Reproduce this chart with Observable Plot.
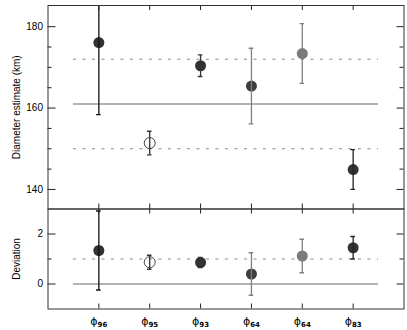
<!DOCTYPE html>
<html>
<head>
<meta charset="utf-8">
<script src="https://cdn.jsdelivr.net/npm/d3@7"></script>
<script src="https://cdn.jsdelivr.net/npm/@observablehq/plot@0.6"></script>
<style>
  body { margin: 0; background: #fff; }
  #wrap { position: relative; width: 407px; height: 330px; background: #fff; }
  #wrap svg { position: absolute; left: 0; background: transparent; }
</style>
</head>
<body>
<div id="wrap"></div>
<script>
// ---- data ----
const pos = [1, 2, 3, 4, 5, 6];
const tickLabels = ["ϕ₉₆", "ϕ₉₅", "ϕ₉₃", "ϕ₆₄", "ϕ₆₄", "ϕ₈₃"];
const diam = [176.1, 151.4, 170.4, 165.4, 173.4, 144.9];
const diamErr = [17.7, 2.9, 2.65, 9.3, 7.35, 4.9];
const dev = [1.34, 0.87, 0.86, 0.40, 1.12, 1.45];
const devErr = [1.58, 0.28, 0.2, 0.85, 0.67, 0.45];
const dotFill = ["#333", "none", "#333", "#3d3d3d", "#7a7a7a", "#333"];
const dotStroke = ["none", "#444", "none", "none", "none", "none"];
const barColor = ["#111", "#333", "#333", "#808080", "#808080", "#222"];
const diamMean = [161];
const diamBand = [150, 172];
const devMean = [0];
const devBand = [1];
const diamMajor = [140, 160, 180];
const diamMinor = [145, 150, 155, 165, 170, 175];
const devMajor = [0, 2];
const devMinor = [1];

const topData = pos.map((p, i) => ({x: p, v: diam[i], e: diamErr[i], fill: dotFill[i], stroke: dotStroke[i], bar: barColor[i]}));
const botData = pos.map((p, i) => ({x: p, v: dev[i], e: devErr[i], fill: dotFill[i], stroke: dotStroke[i], bar: barColor[i]}));

const W = 407, ML = 47.5, MR = 3.5;
const FW = W - ML - MR;
const xDom = [pos[0] - 1, pos[pos.length - 1] + 1];
const xLo = pos[0] - 0.5, xHi = pos[pos.length - 1] + 0.5;
const capW = 0.045;
const font = {fontFamily: "'Liberation Sans', Arial, sans-serif", fontSize: "10px", background: "transparent", color: "#000"};

function panel(data, opts) {
  const {height, marginTop, marginBottom, yDomain, major, minor, mean, band, label, labelOffset, xAxis} = opts;
  const FH = height - marginTop - marginBottom;
  const marks = [
    Plot.ruleY(mean, {y: d => d, x1: xLo, x2: xHi, stroke: "#9a9a9a", strokeWidth: 1.6}),
    Plot.ruleY(band, {y: d => d, x1: xLo, x2: xHi, stroke: "#888", strokeWidth: 1, strokeDasharray: "3,6.5"}),
    Plot.dot(data, {x: "x", y: "v", r: 5.5, fill: d => d.fill, stroke: d => d.stroke, strokeWidth: 1}),
    Plot.link(data, {x1: "x", x2: "x", y1: d => d.v - d.e, y2: d => d.v + d.e, stroke: d => d.bar, strokeWidth: 1.3, clip: true}),
    Plot.ruleY(data, {x1: d => d.x - capW, x2: d => d.x + capW, y: d => d.v + d.e, stroke: d => d.bar, strokeWidth: 1.3, clip: true}),
    Plot.ruleY(data, {x1: d => d.x - capW, x2: d => d.x + capW, y: d => d.v - d.e, stroke: d => d.bar, strokeWidth: 1.3, clip: true}),
    Plot.ruleY(major, {y: d => d, insetRight: FW - 8, stroke: "#222"}),
    Plot.ruleY(minor, {y: d => d, insetRight: FW - 4, stroke: "#222"}),
    Plot.ruleY(major, {y: d => d, insetLeft: FW - 7, stroke: "#222"}),
    Plot.ruleY(minor, {y: d => d, insetLeft: FW - 4, stroke: "#222"}),
    Plot.ruleX(pos, {x: d => d, insetBottom: FH - 5, stroke: "#222"}),
    Plot.ruleX(pos, {x: d => d, insetTop: FH - 5, stroke: "#222"}),
    Plot.frame({stroke: "#333", strokeWidth: 1}),
    Plot.axisY(major, {anchor: "left", tickSize: 0, tickPadding: 5, fontSize: 10, fill: "#000",
      label, labelAnchor: "center", labelOffset, labelArrow: "none"})
  ];
  if (xAxis) {
    marks.push(Plot.axisX(pos, {anchor: "bottom", tickSize: 0, tickPadding: 8, fontSize: 11,
      fill: "#000",
      tickFormat: d => tickLabels[pos.indexOf(d)], label: null}));
  }
  return Plot.plot({
    width: W, height, marginLeft: ML, marginRight: MR, marginTop, marginBottom,
    style: font,
    x: {domain: xDom, axis: xAxis ? undefined : null},
    y: {domain: yDomain},
    marks
  });
}

const topChart = panel(topData, {
  height: 210, marginTop: 5, marginBottom: 1.5, yDomain: [135.2, 185.2],
  major: diamMajor, minor: diamMinor, mean: diamMean, band: diamBand,
  label: "Diameter estimate (km)", labelOffset: 35, xAxis: false
});
const botChart = panel(botData, {
  height: 122, marginTop: 0.5, marginBottom: 21.5, yDomain: [-1, 3],
  major: devMajor, minor: devMinor, mean: devMean, band: devBand,
  label: "Deviation", labelOffset: 35, xAxis: true
});
// render the subscripts as real shifted tspans (same text, normal digits)
const subMap = {"₀":"0","₁":"1","₂":"2","₃":"3","₄":"4","₅":"5","₆":"6","₇":"7","₈":"8","₉":"9"};
botChart.querySelectorAll("text").forEach(t => {
  const s = t.textContent;
  if (!tickLabels.includes(s)) return;
  const base = s[0];
  const sub = Array.from(s.slice(1)).map(c => subMap[c] || c).join("");
  t.textContent = "";
  t.setAttribute("fill", "#000");
  t.style.setProperty("fill", "#000", "important");
  t.style.setProperty("font-family", "'DejaVu Sans', sans-serif", "important");
  if (t.parentNode) {
    t.parentNode.setAttribute("fill", "#000");
    t.parentNode.style.setProperty("fill", "#000", "important");
  }
  const ns = "http://www.w3.org/2000/svg";
  const a = document.createElementNS(ns, "tspan");
  a.textContent = base;
  a.setAttribute("font-size", "11");
  a.style.setProperty("fill", "#000", "important");
  const b = document.createElementNS(ns, "tspan");
  b.textContent = sub;
  b.setAttribute("font-size", "7");
  b.setAttribute("font-weight", "bold");
  b.setAttribute("dy", "2.5");
  b.style.setProperty("fill", "#000", "important");
  t.appendChild(a);
  t.appendChild(b);
});
topChart.style.top = "0px";
botChart.style.top = "208px";
const wrap = document.getElementById("wrap");
wrap.appendChild(topChart);
wrap.appendChild(botChart);
</script>
</body>
</html>
